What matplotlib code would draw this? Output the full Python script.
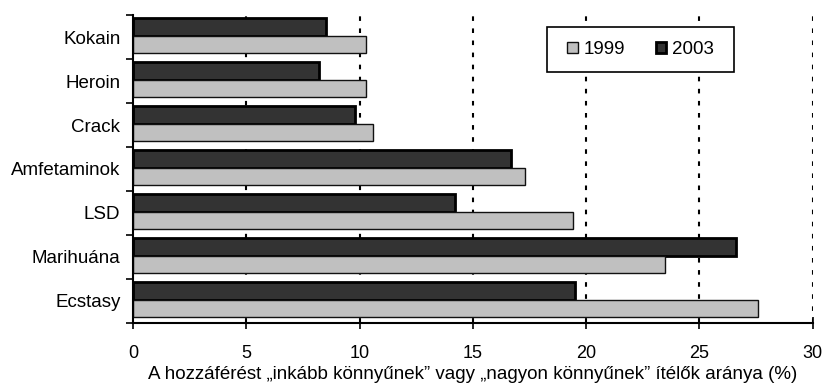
import matplotlib
matplotlib.use("Agg")
import matplotlib.pyplot as plt
from matplotlib.patches import Patch, Rectangle
import numpy as np

plt.rcParams["font.family"] = ["Liberation Sans", "DejaVu Sans"]

categories = ["Kokain", "Heroin", "Crack", "Amfetaminok", "LSD", "Marihuána", "Ecstasy"]
values_1999 = [10.3, 10.3, 10.6, 17.3, 19.4, 23.5, 27.6]
values_2003 = [8.5, 8.2, 9.8, 16.7, 14.2, 26.6, 19.5]
series_labels = ["1999", "2003"]
x_ticks = [0, 5, 10, 15, 20, 25, 30]
x_label = "A hozzáférést „inkább könnyűnek” vagy „nagyon könnyűnek” ítélők aránya (%)"

fig = plt.figure(figsize=(8.26, 3.83), dpi=100)
ax = fig.add_axes([0.161, 0.1567, 0.823, 0.8041])

y = np.arange(len(categories))
h = 0.4
ax.barh(y - h / 2 - 0.03, values_2003, height=h, color="#333333",
        edgecolor="black", linewidth=2.0, zorder=3)
ax.barh(y + h / 2 - 0.03, values_1999, height=h, color="#c0c0c0",
        edgecolor="#111111", linewidth=1.0, zorder=3)

ax.set_xlim(0, 30)
ax.set_ylim(len(categories) - 0.5, -0.5)

# dotted vertical gridlines
for xv in x_ticks[1:]:
    ax.axvline(xv, color="black", linestyle=(0, (2.2, 3.6)), linewidth=1.5, zorder=1)

ax.set_xticks(x_ticks)
ax.set_xticklabels([str(v) for v in x_ticks], fontsize=13)
ax.tick_params(axis="x", direction="inout", length=8, width=1.2, pad=12)

ax.set_yticks(y)
ax.set_yticklabels(categories, fontsize=13.5)
ax.tick_params(axis="y", which="major", length=0, pad=9)
ax.set_yticks(np.arange(-0.5, len(categories) + 0.5, 1.0), minor=True)
ax.tick_params(axis="y", which="minor", direction="out", length=5, width=1.2)

for side in ("top", "right"):
    ax.spines[side].set_visible(False)
for side in ("left", "bottom"):
    ax.spines[side].set_linewidth(1.5)
    ax.spines[side].set_zorder(4)

ax.set_xlabel(x_label, fontsize=13.5, labelpad=3)

# legend box
ax.add_patch(Rectangle((0.6084, 0.815), 0.275, 0.146, transform=ax.transAxes,
                       facecolor="white", edgecolor="black", linewidth=1.2,
                       zorder=5, clip_on=False))
handles = [Patch(facecolor="#c0c0c0", edgecolor="#111111", linewidth=1.0),
           Patch(facecolor="#333333", edgecolor="black", linewidth=2.0)]
leg = ax.legend(handles, series_labels, loc="center", bbox_to_anchor=(0.747, 0.888),
                ncol=2, frameon=False, fontsize=13.5,
                handlelength=0.55, handleheight=0.55, handletextpad=0.35,
                columnspacing=1.6, borderpad=0, borderaxespad=0)
leg.set_zorder(6)

fig.savefig("out.png", dpi=100)
